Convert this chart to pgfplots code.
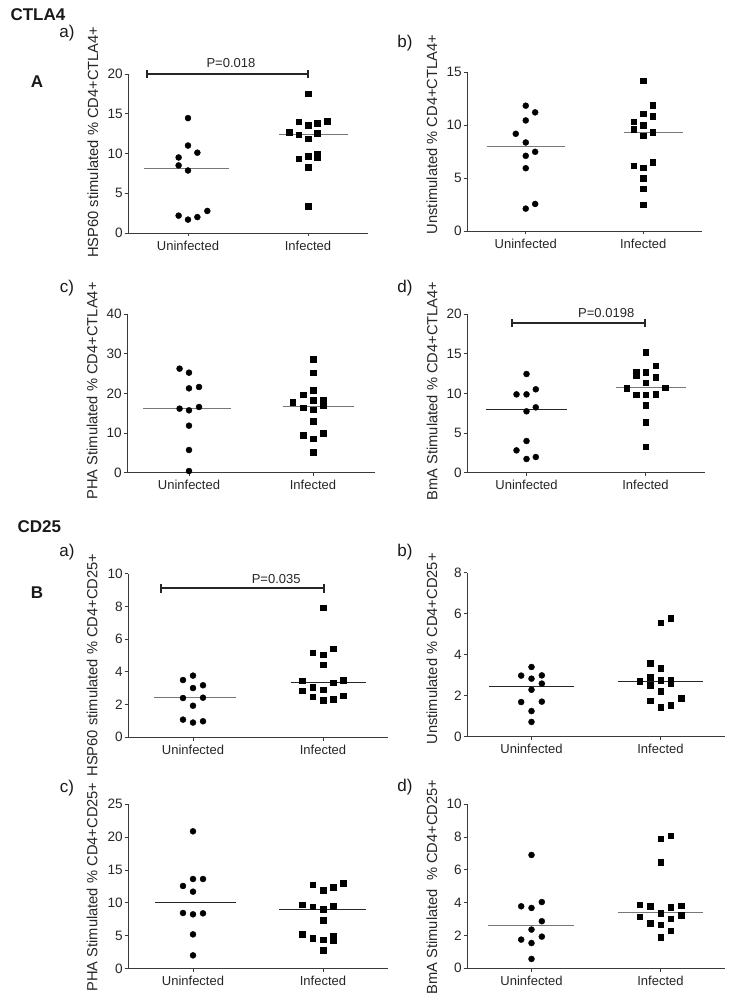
\documentclass[border=0pt]{standalone}
\usepackage{fontspec}
\setmainfont{Liberation Sans}
\usepackage{pgfplots}
\pgfplotsset{compat=1.18}
\definecolor{axgray}{HTML}{3A3A3A}
\definecolor{medgray}{HTML}{777777}
\newcommand{\tickfont}{\fontsize{13}{15}\selectfont}
\newcommand{\ytickfont}{\fontsize{13.6}{15}\selectfont}
\newcommand{\labfont}{\fontsize{14.7}{16}\selectfont}
\newcommand{\bigfont}{\fontsize{17}{19}\selectfont}
\pgfplotsset{
  panel/.style={
    scale only axis, anchor=south west, clip=false,
    axis x line*=bottom, axis y line*=left,
    xmin=-0.5, xmax=1.5, ymin=0,
    xtick={0,1}, xticklabels={Uninfected,Infected},
    tick align=outside, major tick length=3.5pt,
    axis line style={line width=0.9pt, color=axgray},
    every tick/.style={line width=0.9pt, color=axgray},
    tick label style={text=black!85},
    xticklabel style={font=\tickfont, inner sep=2pt, yshift=-2pt},
    yticklabel style={font=\ytickfont, inner sep=1.5pt},
    label style={font=\labfont, text=black!85},
    /pgf/number format/assume math mode=true,
  },
  unin/.style={only marks, mark=*, mark size=3pt, black, mark options={fill=black}},
  infd/.style={only marks, mark=square*, mark size=2.75pt, black, mark options={fill=black}},
  med/.style={line width=0.9pt, medgray, no marks},
  medb/.style={line width=0.9pt, black!85, no marks},
  pbar/.style={line width=2pt, black!85, no marks},
}
\begin{document}
\begin{tikzpicture}
\useasboundingbox (0,0) rectangle (735pt,1000pt);
% ---------------- A a ----------------
\begin{axis}[panel, at={(128pt,767pt)}, width=240pt, height=159pt,
  ymax=20, ytick={0,5,10,15,20},
  ylabel={HSP60 stimulated \% CD4+CTLA4+},
  ylabel style={at={(axis description cs:-0.146,0.572)}, anchor=center}]
\addplot[unin] coordinates {(0,14.45)(0,11.0)(-0.078,9.5)(0.078,10.1)(-0.078,8.5)(0,7.86)(-0.078,2.18)(0,1.68)(0.078,2.0)(0.161,2.77)};
\addplot[infd] coordinates {(1,17.5)(0.842,12.7)(0.922,14.0)(0.922,12.35)(1,13.57)(1,11.85)(1.078,13.78)(1.078,12.56)(1.161,14.08)(0.922,9.33)(1,9.66)(1.078,9.9)(1.078,9.5)(1,8.3)(1,3.36)};
\addplot[med] coordinates {(-0.37,8.15)(0.34,8.15)};
\addplot[med] coordinates {(0.76,12.35)(1.33,12.35)};
\addplot[pbar] coordinates {(-0.342,20)(1.0,20)};
\addplot[pbar] coordinates {(-0.342,19.45)(-0.342,20.55)};
\addplot[pbar] coordinates {(1.0,19.45)(1.0,20.55)};
\node[font=\tickfont, text=black!85, anchor=south] at (axis cs:0.358,20.3) {P=0.018};
\end{axis}
% ---------------- A b ----------------
\begin{axis}[panel, at={(467pt,769pt)}, width=235pt, height=159pt,
  ymax=15, ytick={0,5,10,15},
  ylabel={Unstimulated \% CD4+CTLA4+},
  ylabel style={at={(axis description cs:-0.149,0.607)}, anchor=center}]
\addplot[unin] coordinates {(0,11.82)(0.08,11.19)(0,10.43)(-0.085,9.17)(0,8.35)(0,7.09)(0.08,7.47)(0,5.92)(0,2.11)(0.08,2.55)};
\addplot[infd] coordinates {(1,14.18)(0.92,10.3)(1,11.06)(1.08,11.85)(1.08,10.81)(0.92,9.58)(1,9.96)(1,8.98)(1.08,9.3)(0.92,6.18)(1,5.99)(1.08,6.49)(1,4.98)(1,4.0)(1,2.49)};
\addplot[med] coordinates {(-0.33,7.97)(0.33,7.97)};
\addplot[med] coordinates {(0.84,9.3)(1.34,9.3)};
\end{axis}
% ---------------- A c ----------------
\begin{axis}[panel, at={(127pt,527.3pt)}, width=248pt, height=158.4pt,
  ymax=40, ytick={0,10,20,30,40},
  ylabel={PHA Stimulated \% CD4+CTLA4+},
  ylabel style={at={(axis description cs:-0.141,0.516)}, anchor=center}]
\addplot[unin] coordinates {(-0.076,26.27)(0,25.26)(0,21.3)(0.081,21.64)(-0.076,16.17)(0,15.75)(0.081,16.59)(0,11.87)(0,5.73)(0,0.42)};
\addplot[infd] coordinates {(1,28.7)(1,25.26)(1,20.88)(0.919,19.7)(0.838,17.77)(1,18.27)(1.081,18.27)(1.081,16.93)(0.919,16.42)(1,15.92)(1,13.05)(0.919,9.43)(1.081,9.94)(1,8.59)(1,5.22)};
\addplot[med] coordinates {(-0.37,16.34)(0.34,16.34)};
\addplot[med] coordinates {(0.76,16.84)(1.33,16.84)};
\end{axis}
% ---------------- A d ----------------
\begin{axis}[panel, at={(467pt,527.3pt)}, width=238pt, height=158.4pt,
  ymax=20, ytick={0,5,10,15,20},
  ylabel={BmA Stimulated \% CD4+CTLA4+},
  ylabel style={at={(axis description cs:-0.147,0.516)}, anchor=center}]
\addplot[unin] coordinates {(0,12.46)(-0.084,9.89)(0,9.89)(0.078,10.53)(0,7.75)(0.078,8.25)(0,4.0)(-0.084,2.82)(0,1.73)(0.078,1.98)};
\addplot[infd] coordinates {(1,15.2)(0.922,12.67)(0.922,12.25)(1,12.67)(1.084,13.5)(1.084,12.08)(1,11.37)(0.841,10.69)(1.165,10.74)(0.922,9.85)(1,9.85)(1.084,9.89)(1,8.5)(1,6.36)(1,3.28)};
\addplot[medb] coordinates {(-0.34,8.0)(0.34,8.0)};
\addplot[med] coordinates {(0.75,10.74)(1.34,10.74)};
\addplot[pbar] coordinates {(-0.123,18.9)(0.994,18.9)};
\addplot[pbar] coordinates {(-0.123,18.35)(-0.123,19.45)};
\addplot[pbar] coordinates {(0.994,18.35)(0.994,19.45)};
\node[font=\tickfont, text=black!85, anchor=south] at (axis cs:0.67,19.1) {P=0.0198};
\end{axis}
% ---------------- B a ----------------
\begin{axis}[panel, at={(128pt,262.7pt)}, width=260pt, height=163.6pt,
  ymax=10, ytick={0,2,4,6,8,10},
  ylabel={HSP60 stimulated \% CD4+CD25+},
  ylabel style={at={(axis description cs:-0.138,0.442)}, anchor=center}]
\addplot[unin] coordinates {(-0.077,3.5)(0,3.77)(0,3.01)(0.077,3.18)(-0.077,2.40)(0.077,2.42)(0,1.93)(-0.077,1.08)(0,0.9)(0.077,0.98)};
\addplot[infd] coordinates {(1,7.92)(0.921,5.17)(1,5.05)(1.077,5.42)(1,4.44)(0.841,3.46)(1.077,3.34)(1.154,3.5)(0.841,2.85)(0.921,3.05)(1,2.91)(0.921,2.48)(1,2.26)(1.077,2.32)(1.154,2.53)};
\addplot[med] coordinates {(-0.30,2.42)(0.33,2.42)};
\addplot[medb] coordinates {(0.75,3.36)(1.33,3.36)};
\addplot[pbar] coordinates {(-0.249,9.1)(1.005,9.1)};
\addplot[pbar] coordinates {(-0.249,8.85)(-0.249,9.35)};
\addplot[pbar] coordinates {(1.005,8.85)(1.005,9.35)};
\node[font=\tickfont, text=black!85, anchor=south] at (axis cs:0.64,9.2) {P=0.035};
\end{axis}
% ---------------- B b ----------------
\begin{axis}[panel, at={(467pt,263.3pt)}, width=258pt, height=164pt,
  ymax=8, ytick={0,2,4,6,8},
  ylabel={Unstimulated \% CD4+CD25+},
  ylabel style={at={(axis description cs:-0.136,0.535)}, anchor=center}]
\addplot[unin] coordinates {(0,3.40)(-0.08,2.98)(0,2.83)(0.08,2.99)(0.08,2.59)(0,2.29)(-0.08,1.69)(0.08,1.71)(0,1.25)(0,0.72)};
\addplot[infd] coordinates {(1,5.56)(1.08,5.79)(0.92,3.58)(1,3.33)(0.84,2.70)(0.92,2.91)(0.92,2.52)(1,2.76)(1.08,2.76)(1.08,2.59)(1,2.23)(0.92,1.76)(1.16,1.89)(1,1.45)(1.08,1.53)};
\addplot[medb] coordinates {(-0.33,2.44)(0.33,2.44)};
\addplot[medb] coordinates {(0.67,2.68)(1.33,2.68)};
\end{axis}
% ---------------- B c ----------------
\begin{axis}[panel, at={(128pt,31.3pt)}, width=260pt, height=164.4pt,
  ymax=25, ytick={0,5,10,15,20,25},
  ylabel={PHA Stimulated \% CD4+CD25+},
  ylabel style={at={(axis description cs:-0.138,0.497)}, anchor=center}]
\addplot[unin] coordinates {(0,20.89)(0,13.64)(0.077,13.64)(-0.077,12.58)(0,11.71)(-0.077,8.47)(0,8.27)(0.077,8.42)(0,5.22)(0,2.03)};
\addplot[infd] coordinates {(0.921,12.78)(1,11.92)(1.077,12.42)(1.154,12.98)(0.841,9.74)(0.921,9.43)(1,9.03)(1.077,9.53)(1,7.40)(0.841,5.22)(0.921,4.61)(1,4.41)(1.077,5.02)(1.077,4.31)(1,2.84)};
\addplot[medb] coordinates {(-0.29,10.04)(0.33,10.04)};
\addplot[medb] coordinates {(0.66,9.03)(1.33,9.03)};
\end{axis}
% ---------------- B d ----------------
\begin{axis}[panel, at={(467pt,31.7pt)}, width=258pt, height=164pt,
  ymax=10, ytick={0,2,4,6,8,10},
  ylabel={BmA Stimulated\ \ \% CD4+CD25+},
  ylabel style={at={(axis description cs:-0.136,0.496)}, anchor=center}]
\addplot[unin] coordinates {(0,6.91)(-0.08,3.78)(0,3.68)(0.08,4.04)(0.08,2.87)(0,2.36)(-0.08,1.75)(0,1.54)(0.08,1.93)(0,0.57)};
\addplot[infd] coordinates {(1,7.91)(1.08,8.09)(1,6.48)(0.84,3.88)(0.92,3.80)(1.08,3.74)(1.16,3.82)(0.84,3.15)(1,3.37)(1.16,3.23)(0.92,2.76)(1,2.66)(1.08,3.03)(1.08,2.30)(1,1.89)};
\addplot[med] coordinates {(-0.34,2.62)(0.33,2.62)};
\addplot[med] coordinates {(0.67,3.39)(1.33,3.39)};
\end{axis}
% ---------------- headings ----------------
\node[font=\bigfont\bfseries, anchor=west, text=black!90] at (7pt,985pt) {CTLA4};
\node[font=\bigfont\bfseries, text=black!90] at (37pt,918pt) {A};
\node[font=\bigfont, text=black!90] at (67pt,967pt) {a)};
\node[font=\bigfont, text=black!90] at (405pt,957pt) {b)};
\node[font=\bigfont, text=black!90] at (67pt,712pt) {c)};
\node[font=\bigfont, text=black!90] at (405pt,712pt) {d)};
\node[font=\bigfont\bfseries, anchor=west, text=black!90] at (14pt,473pt) {CD25};
\node[font=\bigfont\bfseries, text=black!90] at (37pt,407pt) {B};
\node[font=\bigfont, text=black!90] at (67pt,448pt) {a)};
\node[font=\bigfont, text=black!90] at (405pt,448pt) {b)};
\node[font=\bigfont, text=black!90] at (67pt,212pt) {c)};
\node[font=\bigfont, text=black!90] at (405pt,213pt) {d)};
\end{tikzpicture}
\end{document}
